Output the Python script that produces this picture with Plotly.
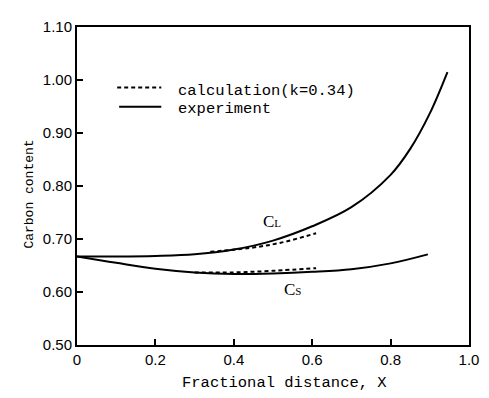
import plotly.graph_objects as go

# Experiment, liquid (CL)
x_exp_L = [0, 0.1, 0.2, 0.3, 0.4, 0.5, 0.6, 0.7, 0.8, 0.85, 0.9, 0.945]
y_exp_L = [0.667, 0.667, 0.668, 0.671, 0.680, 0.697, 0.724, 0.760, 0.821, 0.870, 0.937, 1.015]
# Calculation, liquid (CL)
x_calc_L = [0.34, 0.44, 0.52, 0.61]
y_calc_L = [0.676, 0.683, 0.693, 0.711]
# Experiment, solid (Cs)
x_exp_S = [0, 0.1, 0.2, 0.3, 0.4, 0.5, 0.6, 0.7, 0.8, 0.895]
y_exp_S = [0.667, 0.655, 0.644, 0.637, 0.634, 0.635, 0.638, 0.643, 0.654, 0.671]
# Calculation, solid (Cs)
x_calc_S = [0.3, 0.4, 0.5, 0.61]
y_calc_S = [0.637, 0.637, 0.640, 0.645]

x_ticks = [0, 0.2, 0.4, 0.6, 0.8, 1.0]
x_ticktext = ["0", "0.2", "0.4", "0.6", "0.8", "1.0"]
y_ticks = [0.5, 0.6, 0.7, 0.8, 0.9, 1.0, 1.1]
y_ticktext = ["0.50", "0.60", "0.70", "0.80", "0.90", "1.00", "1.10"]

MONO = "Liberation Mono, Courier New, monospace"
SERIF = "Liberation Serif, Times New Roman, serif"
SANS = "Liberation Sans, Arial, sans-serif"

fig = go.Figure()
solid = dict(color="black", width=2)
dashed = dict(color="black", width=2, dash="4px,3px")
fig.add_trace(go.Scatter(x=x_exp_L, y=y_exp_L, mode="lines", line=solid, line_shape="spline", showlegend=False))
fig.add_trace(go.Scatter(x=x_exp_S, y=y_exp_S, mode="lines", line=solid, line_shape="spline", showlegend=False))
fig.add_trace(go.Scatter(x=x_calc_L, y=y_calc_L, mode="lines", line=dashed, line_shape="spline", showlegend=False))
fig.add_trace(go.Scatter(x=x_calc_S, y=y_calc_S, mode="lines", line=dashed, line_shape="spline", showlegend=False))

# legend drawn manually
fig.add_shape(type="line", xref="x", yref="y", x0=0.1025, x1=0.215, y0=0.986, y1=0.986, line=dashed)
fig.add_shape(type="line", xref="x", yref="y", x0=0.1075, x1=0.215, y0=0.9495, y1=0.9495, line=solid)
fig.add_annotation(x=0.2525, y=0.980, xref="x", yref="y", text="calculation(k=0.34)", showarrow=False,
                   xanchor="left", yanchor="middle", font=dict(family=MONO, size=15.5, color="black"))
fig.add_annotation(x=0.2525, y=0.945, xref="x", yref="y", text="experiment", showarrow=False,
                   xanchor="left", yanchor="middle", font=dict(family=MONO, size=15.5, color="black"))

# curve labels
fig.add_annotation(x=0.4975, y=0.733, xref="x", yref="y", text="C<span style='font-size:11px'>L</span>",
                   showarrow=False, font=dict(family=SERIF, size=17, color="black"))
fig.add_annotation(x=0.55, y=0.605, xref="x", yref="y", text="C<span style='font-size:11px'>S</span>",
                   showarrow=False, font=dict(family=SERIF, size=17, color="black"))

# axis titles
fig.add_annotation(x=-0.145, y=0.475, xref="paper", yref="paper", text="Carbon content", textangle=-90,
                   showarrow=False, font=dict(family=MONO, size=13, color="black"))
fig.add_annotation(x=0.53, y=-0.12, xref="paper", yref="paper", text="Fractional distance, X",
                   showarrow=False, yanchor="middle", font=dict(family=MONO, size=15.5, color="black"))

axis_common = dict(showgrid=False, zeroline=False, showline=True, linecolor="black", linewidth=2,
                   mirror=True, ticks="inside", ticklen=6, tickwidth=1.5, tickcolor="black",
                   tickfont=dict(family=SANS, size=15, color="black"))
fig.update_xaxes(range=[0, 1.0], tickvals=x_ticks, ticktext=x_ticktext, **axis_common)
fig.update_yaxes(range=[0.5, 1.1], tickvals=y_ticks, ticktext=y_ticktext, **axis_common)

# page body has an 8px default margin, so the figure is sized/offset to compensate
fig.update_layout(width=481, height=390, margin=dict(l=69, r=12, t=10, b=52.5),
                  plot_bgcolor="white", paper_bgcolor="white", showlegend=False)
fig.write_html("out.html")
